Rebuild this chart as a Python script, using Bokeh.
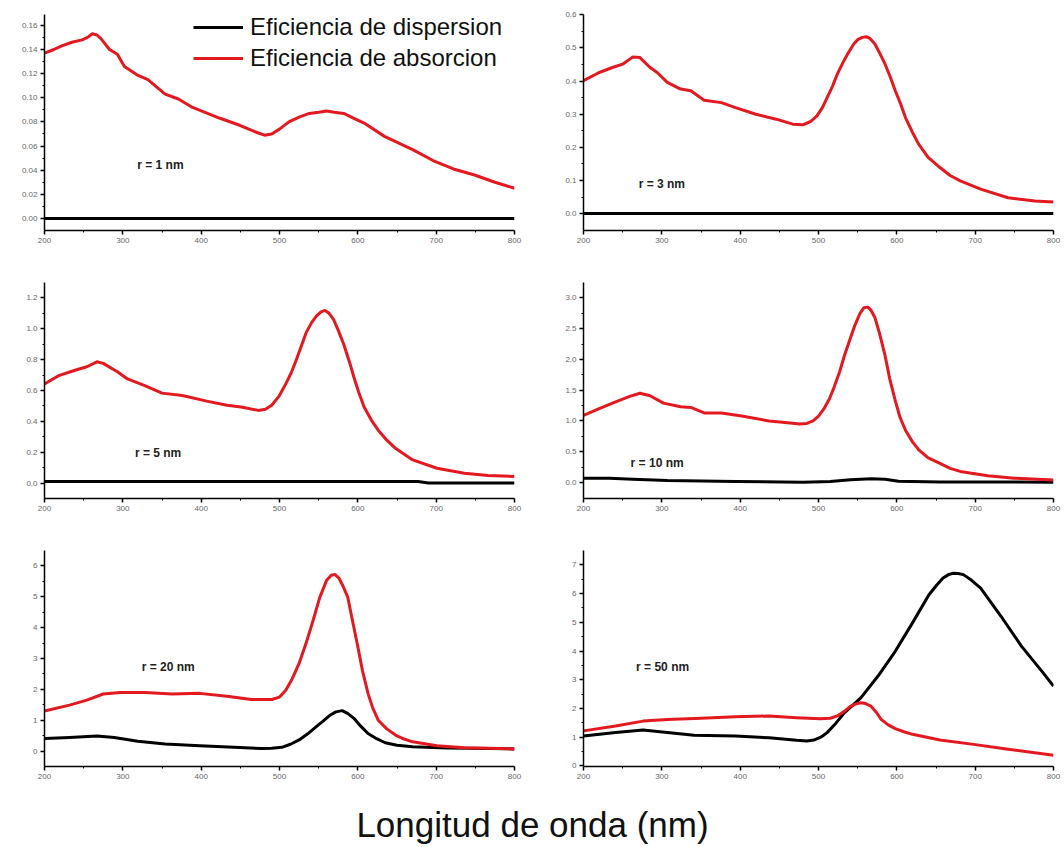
from bokeh.plotting import figure
from bokeh.layouts import gridplot, column
from bokeh.models import (Range1d, FixedTicker, NumeralTickFormatter, Label, Legend,
                          LegendItem)
from bokeh.embed import file_html
from bokeh.resources import INLINE

# ---------------- data ----------------
x_ticks = [200, 300, 400, 500, 600, 700, 800]
x_minor = [250, 350, 450, 550, 650, 750]

# r = 1 nm
wl1_abs = [200, 212, 222, 235, 248, 255, 261, 267, 272, 283, 293, 302, 318, 332, 354, 371, 389, 424,
           450, 472, 481, 490, 500, 512, 525, 538, 550, 560, 570, 582, 595, 608, 634, 670, 696, 722,
           749, 775, 800]
abs1 = [0.137, 0.140, 0.143, 0.146, 0.148, 0.150, 0.153, 0.152, 0.149, 0.140, 0.136, 0.126, 0.119,
        0.115, 0.103, 0.099, 0.092, 0.083, 0.077, 0.071, 0.069, 0.070, 0.074, 0.080, 0.084, 0.087,
        0.088, 0.089, 0.088, 0.087, 0.083, 0.079, 0.068, 0.057, 0.048, 0.041, 0.036, 0.030, 0.025]
wl1_sca = [200, 400, 600, 800]
sca1 = [0.0, 0.0, 0.0, 0.0]

# r = 3 nm
wl2_abs = [200, 220, 237, 250, 263, 272, 285, 294, 307, 324, 337, 354, 376, 394, 420, 446, 467,
           480, 490, 498, 505, 511, 518, 524, 531, 537, 545, 550, 556, 561, 566, 572, 578, 585, 592,
           598, 605, 611, 620, 628, 640, 655, 668, 681, 707, 742, 776, 800]
abs2 = [0.401, 0.426, 0.441, 0.451, 0.473, 0.471, 0.441, 0.426, 0.396, 0.376, 0.371, 0.342, 0.335,
        0.320, 0.300, 0.285, 0.270, 0.268, 0.278, 0.295, 0.320, 0.350, 0.385, 0.421, 0.455, 0.481,
        0.512, 0.525, 0.532, 0.534, 0.528, 0.512, 0.485, 0.451, 0.410, 0.371, 0.330, 0.290, 0.245,
        0.209, 0.170, 0.139, 0.115, 0.099, 0.074, 0.048, 0.038, 0.035]
wl2_sca = [200, 400, 600, 800]
sca2 = [0.0, 0.0, 0.0, 0.0]

# r = 5 nm
wl3_abs = [200, 218, 240, 254, 267, 275, 293, 306, 328, 350, 376, 407, 433, 451, 473, 482, 490,
           499, 508, 515, 521, 528, 534, 541, 547, 553, 558, 563, 569, 575, 582, 589, 595, 601, 608,
           617, 626, 637, 648, 670, 701, 736, 766, 800]
abs3 = [0.643, 0.696, 0.733, 0.754, 0.786, 0.776, 0.722, 0.675, 0.632, 0.583, 0.568, 0.531, 0.504,
        0.493, 0.471, 0.478, 0.504, 0.560, 0.643, 0.715, 0.793, 0.890, 0.975, 1.040, 1.082, 1.110,
        1.119, 1.102, 1.061, 0.990, 0.900, 0.790, 0.686, 0.590, 0.493, 0.410, 0.343, 0.278, 0.225,
        0.150, 0.096, 0.064, 0.049, 0.043]
wl3_sca = [200, 300, 400, 500, 600, 677, 690, 800]
sca3 = [0.01, 0.01, 0.01, 0.01, 0.01, 0.01, 0.0, 0.0]

# r = 10 nm
wl4_abs = [200, 220, 241, 259, 272, 285, 302, 324, 337, 354, 376, 402, 437, 454, 476, 485, 493,
           500, 507, 514, 520, 527, 533, 540, 546, 553, 558, 563, 567, 572, 578, 585, 591, 598, 604,
           611, 620, 628, 640, 655, 668, 681, 716, 750, 800]
abs4 = [1.09, 1.20, 1.31, 1.40, 1.45, 1.41, 1.29, 1.23, 1.22, 1.13, 1.13, 1.08, 1.00, 0.98, 0.95,
        0.96, 1.00, 1.08, 1.20, 1.36, 1.55, 1.80, 2.06, 2.32, 2.54, 2.75, 2.84, 2.85, 2.80, 2.68,
        2.42, 2.06, 1.68, 1.33, 1.06, 0.85, 0.66, 0.53, 0.40, 0.31, 0.23, 0.18, 0.11, 0.07, 0.04]
wl4_sca = [200, 233, 263, 307, 394, 480, 515, 541, 567, 585, 602, 655, 800]
sca4 = [0.07, 0.07, 0.054, 0.032, 0.016, 0.005, 0.016, 0.043, 0.059, 0.054, 0.02, 0.01, 0.005]

# r = 20 nm
wl5_abs = [200, 232, 254, 275, 297, 328, 363, 398, 433, 464, 490, 500, 508, 516, 525, 534, 543,
           551, 560, 566, 571, 576, 581, 587, 593, 600, 606, 613, 619, 626, 637, 648, 659, 670, 701,
           736, 800]
abs5 = [1.30, 1.49, 1.65, 1.85, 1.90, 1.90, 1.85, 1.87, 1.78, 1.67, 1.67, 1.75, 1.97, 2.33, 2.84,
        3.50, 4.24, 4.95, 5.53, 5.70, 5.72, 5.60, 5.35, 5.00, 4.25, 3.38, 2.60, 1.87, 1.40, 1.00,
        0.72, 0.52, 0.39, 0.30, 0.17, 0.11, 0.07]
wl5_sca = [200, 232, 267, 289, 319, 354, 398, 442, 477, 490, 503, 514, 525, 536, 547, 556, 565,
           572, 580, 587, 595, 604, 613, 624, 635, 650, 670, 714, 800]
sca5 = [0.41, 0.44, 0.49, 0.44, 0.32, 0.23, 0.17, 0.12, 0.08, 0.09, 0.12, 0.22, 0.36, 0.56, 0.79,
        0.98, 1.17, 1.27, 1.31, 1.22, 1.06, 0.80, 0.57, 0.40, 0.27, 0.19, 0.14, 0.10, 0.07]

# r = 50 nm
wl6_abs = [200, 241, 276, 307, 350, 394, 437, 472, 502, 515, 524, 533, 541, 548, 554, 560, 567,
           574, 580, 589, 598, 610, 620, 655, 698, 742, 800]
abs6 = [1.22, 1.39, 1.56, 1.62, 1.66, 1.71, 1.74, 1.68, 1.64, 1.66, 1.74, 1.90, 2.08, 2.16, 2.20,
        2.17, 2.08, 1.86, 1.62, 1.43, 1.30, 1.18, 1.10, 0.90, 0.75, 0.58, 0.37]
wl6_sca = [200, 241, 276, 307, 341, 394, 437, 472, 485, 494, 503, 511, 522, 533, 554, 576, 598,
           620, 641, 651, 659, 666, 672, 678, 685, 695, 707, 733, 759, 785, 800]
sca6 = [1.04, 1.16, 1.25, 1.16, 1.07, 1.04, 0.98, 0.89, 0.87, 0.90, 1.00, 1.16, 1.48, 1.85, 2.37,
        3.13, 3.99, 4.98, 5.96, 6.30, 6.54, 6.66, 6.71, 6.70, 6.66, 6.47, 6.19, 5.21, 4.17, 3.30,
        2.78]

radius_labels = ["r = 1 nm", "r = 3 nm", "r = 5 nm", "r = 10 nm", "r = 20 nm", "r = 50 nm"]
series_names = ["Eficiencia de dispersion", "Eficiencia de absorcion"]
x_title = "Longitud de onda (nm)"

y_ticks = [
    [0.0, 0.02, 0.04, 0.06, 0.08, 0.10, 0.12, 0.14, 0.16],
    [0.0, 0.1, 0.2, 0.3, 0.4, 0.5, 0.6],
    [0.0, 0.2, 0.4, 0.6, 0.8, 1.0, 1.2],
    [0.0, 0.5, 1.0, 1.5, 2.0, 2.5, 3.0],
    [0, 1, 2, 3, 4, 5, 6],
    [0, 1, 2, 3, 4, 5, 6, 7],
]
y_minor = [
    [0.01, 0.03, 0.05, 0.07, 0.09, 0.11, 0.13, 0.15],
    [0.05, 0.15, 0.25, 0.35, 0.45, 0.55],
    [0.1, 0.3, 0.5, 0.7, 0.9, 1.1],
    [0.25, 0.75, 1.25, 1.75, 2.25, 2.75],
    [0.5, 1.5, 2.5, 3.5, 4.5, 5.5],
    [0.5, 1.5, 2.5, 3.5, 4.5, 5.5, 6.5],
]
y_formats = ["0.00", "0.0", "0.0", "0.0", "0", "0"]
y_ranges = [(-0.01, 0.169), (-0.051, 0.601), (-0.1, 1.3), (-0.26, 3.25), (-0.5, 6.5), (-0.02, 7.5)]
label_pos = [(348, 0.044), (300, 0.088), (345, 0.193), (294, 0.32), (358, 2.71), (301, 3.45)]

panels = [
    (wl1_sca, sca1, wl1_abs, abs1),
    (wl2_sca, sca2, wl2_abs, abs2),
    (wl3_sca, sca3, wl3_abs, abs3),
    (wl4_sca, sca4, wl4_abs, abs4),
    (wl5_sca, sca5, wl5_abs, abs5),
    (wl6_sca, sca6, wl6_abs, abs6),
]

RED = "#e3191f"
FONT = "Liberation Sans"

col_geom = [dict(width=540, left=44, right=26), dict(width=524, left=43, right=11)]
row_geom = [dict(height=265, top=14, bottom=35), dict(height=267, top=17, bottom=34),
            dict(height=268, top=18, bottom=34)]

figs = []
for i, (wls, sca, wla, ab) in enumerate(panels):
    r, c = divmod(i, 2)
    cg, rg = col_geom[c], row_geom[r]
    p = figure(width=cg["width"], height=rg["height"], output_backend="svg",
               toolbar_location=None, x_range=Range1d(200, 800),
               y_range=Range1d(*y_ranges[i]),
               min_border_left=cg["left"], min_border_right=cg["right"],
               min_border_top=rg["top"], min_border_bottom=rg["bottom"])
    p.outline_line_color = None
    p.grid.visible = False
    p.background_fill_color = "white"
    p.border_fill_color = "white"

    r_sca = p.line(wls, sca, line_color="black", line_width=3, line_join="round")
    r_abs = p.line(wla, ab, line_color=RED, line_width=3, line_join="round")

    p.xaxis.ticker = FixedTicker(ticks=x_ticks, minor_ticks=x_minor)
    p.yaxis.ticker = FixedTicker(ticks=y_ticks[i], minor_ticks=y_minor[i])
    p.yaxis.formatter = NumeralTickFormatter(format=y_formats[i])
    for ax in (p.xaxis[0], p.yaxis[0]):
        ax.axis_line_color = "black"
        ax.axis_line_width = 1.5
        ax.major_tick_line_color = "black"
        ax.major_tick_line_width = 1.5
        ax.major_tick_out = 4
        ax.major_tick_in = 0
        ax.minor_tick_line_color = "black"
        ax.minor_tick_line_width = 1
        ax.minor_tick_out = 2
        ax.minor_tick_in = 0
        ax.major_label_text_font = FONT
        ax.major_label_text_font_size = "8px"
        ax.major_label_text_color = "#666666"
        ax.major_label_standoff = 3

    lx, ly = label_pos[i]
    p.add_layout(Label(x=lx, y=ly, text=radius_labels[i], text_align="center",
                       text_baseline="middle", text_font=FONT, text_font_size="12px",
                       text_font_style="bold", text_color="#222222"))

    if i == 0:
        leg = Legend(items=[LegendItem(label=series_names[0], renderers=[r_sca]),
                            LegendItem(label=series_names[1], renderers=[r_abs])],
                     location=(143, 152), border_line_alpha=0, background_fill_alpha=0,
                     padding=6, margin=0, spacing=3, glyph_width=50, glyph_height=26,
                     label_height=26, label_standoff=7, label_width=250,
                     label_text_font=FONT, label_text_font_size="24px",
                     label_text_color="#111111")
        p.add_layout(leg)
    figs.append(p)

grid = gridplot([[figs[0], figs[1]], [figs[2], figs[3]], [figs[4], figs[5]]],
                toolbar_location=None)

xl = figure(width=1064, height=47, output_backend="svg", toolbar_location=None,
            x_range=Range1d(0, 1), y_range=Range1d(0, 1), min_border=0)
xl.axis.visible = False
xl.grid.visible = False
xl.outline_line_color = None
xl.add_layout(Label(x=0.5, y=0.5, text=x_title, text_align="center", text_baseline="middle",
                    text_font=FONT, text_font_size="35px", text_color="#111111"))

layout = column(grid, xl)
open("out.html", "w").write(file_html(layout, INLINE))
